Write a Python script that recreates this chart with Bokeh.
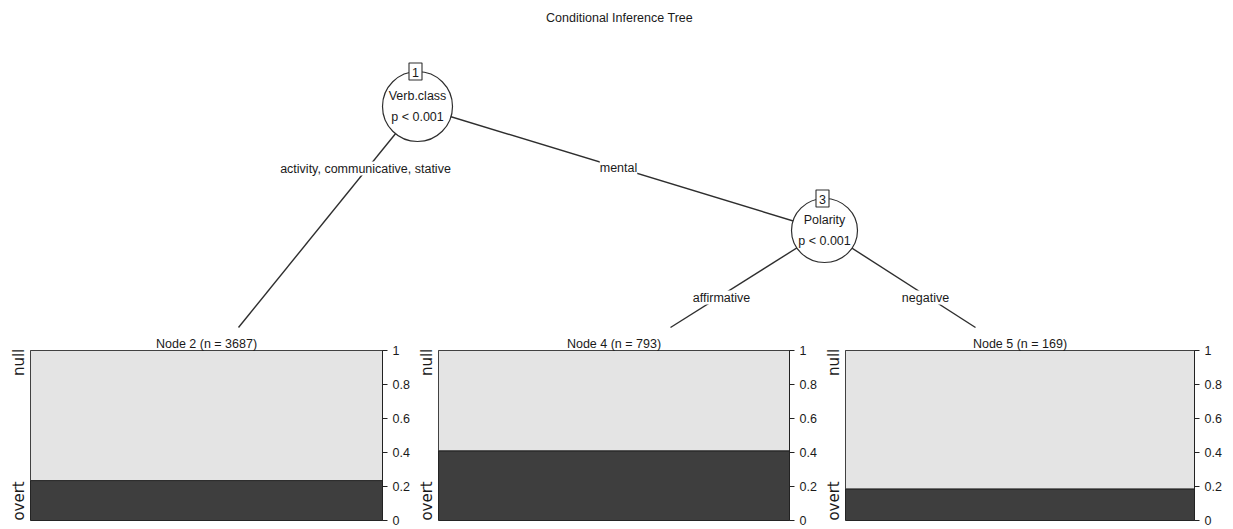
import math
from bokeh.plotting import figure
from bokeh.models import Range1d, Label, FixedTicker, CustomJSTickFormatter, LinearAxis
from bokeh.layouts import column, row
from bokeh.core.properties import value
from bokeh.embed import file_html
from bokeh.resources import INLINE

# ---------------- data ----------------
title_text = "Conditional Inference Tree"
class_labels = ["null", "overt"]
terminal_ids = [2, 4, 5]
terminal_n = [3687, 793, 169]
overt_share = [0.235, 0.41, 0.186]
inner_ids = [1, 3]
inner_vars = ["Verb.class", "Polarity"]
inner_p = ["p < 0.001", "p < 0.001"]
edge_labels = ["activity, communicative, stative", "mental", "affirmative", "negative"]
tick_values = [0, 0.2, 0.4, 0.6, 0.8, 1]
class_label_pos = [0.93, 0.115]

# ---------------- styling / layout ----------------
FONT = "Liberation Sans"
ROT_FONT = "DejaVu Sans"
FS = "12.5px"
TXT = "#1a1a1a"
LINE = "#2e2e2e"
DARK = "#3e3e3e"
LIGHT = "#e4e4e4"

# page-pixel layout of the tree (tree figure uses page coordinates)
inner_pos = [(417, 106), (824, 230)]
inner_size = [(70, 70), (66, 64)]
term_anchor = [(238, 327), (670, 327), (975, 327)]
edges = [(0, ("t", 0)), (0, ("i", 1)), (1, ("t", 1)), (1, ("t", 2))]
edge_label_pos = [(365, 168), (618, 167), (721, 297), (925, 297)]

TOTAL_W = 1233
TOTAL_H = 528
TREE_H = 333
tree = figure(width=TOTAL_W, height=TREE_H, x_range=Range1d(0, TOTAL_W), y_range=Range1d(TREE_H, 0),
              output_backend="svg", toolbar_location=None, min_border=0,
              x_axis_location=None, y_axis_location=None)
tree.grid.visible = False
tree.outline_line_color = None

x0, y0, x1, y1 = [], [], [], []
for parent, (kind, idx) in edges:
    px, py = inner_pos[parent]
    cx, cy = term_anchor[idx] if kind == "t" else inner_pos[idx]
    x0.append(px); y0.append(py); x1.append(cx); y1.append(cy)
tree.segment(x0=x0, y0=y0, x1=x1, y1=y1, line_color=LINE, line_width=1.4)

tree.ellipse(x=[p[0] for p in inner_pos], y=[p[1] for p in inner_pos],
             width=[s[0] for s in inner_size], height=[s[1] for s in inner_size],
             fill_color="white", line_color=LINE, line_width=1.2)

box_x = [p[0] - 2 for p in inner_pos]
box_y = [p[1] - s[1] / 2 for p, s in zip(inner_pos, inner_size)]
tree.rect(x=box_x, y=box_y, width=13, height=17, fill_color="white", line_color=LINE, line_width=1.1)
tree.text(x=box_x, y=[b + 1 for b in box_y], text=[str(i) for i in inner_ids],
          text_font=value(FONT), text_font_size=FS, text_color=TXT,
          text_align="center", text_baseline="middle")
tree.text(x=[p[0] for p in inner_pos], y=[p[1] - 11 for p in inner_pos], text=inner_vars,
          text_font=value(FONT), text_font_size=FS, text_color=TXT,
          text_align="center", text_baseline="middle")
tree.text(x=[p[0] for p in inner_pos], y=[p[1] + 10 for p in inner_pos], text=inner_p,
          text_font=value(FONT), text_font_size=FS, text_color=TXT,
          text_align="center", text_baseline="middle")

for lab, (lx, ly) in zip(edge_labels, edge_label_pos):
    tree.add_layout(Label(x=lx, y=ly, text=lab, text_align="center", text_baseline="middle",
                          text_font=FONT, text_font_size=FS, text_color=TXT,
                          background_fill_color="white"))

tree.add_layout(Label(x=619, y=17, text=title_text, text_align="center", text_baseline="middle",
                      text_font=FONT, text_font_size=FS, text_color=TXT))

# ---------------- terminal node bar panels ----------------
panel_widths = [415, 407, 411]
border_left = [30, 22, 22]
FRAME_W = [352, 352, 350]
PANEL_H = TOTAL_H - TREE_H
panels = []
for k in range(3):
    w = panel_widths[k]
    p = figure(width=w, height=PANEL_H, x_range=Range1d(0, 1), y_range=Range1d(0, 1),
               x_axis_location=None, y_axis_location="right",
               output_backend="svg", toolbar_location=None,
               min_border_left=border_left[k], min_border_right=w - border_left[k] - FRAME_W[k],
               min_border_top=17, min_border_bottom=8,
               title=f"Node {terminal_ids[k]} (n = {terminal_n[k]})")
    p.title.align = "center"
    p.title.text_font = FONT
    p.title.text_font_size = FS
    p.title.text_font_style = "normal"
    p.title.text_color = TXT
    p.title.standoff = 0
    p.grid.visible = False
    p.outline_line_color = "#2a2a2a"
    p.quad(left=[0], right=[1], bottom=[0], top=[overt_share[k]],
           fill_color=DARK, line_color="#1a1a1a", line_width=1)
    p.quad(left=[0], right=[1], bottom=[overt_share[k]], top=[1],
           fill_color=LIGHT, line_color="#2a2a2a", line_width=1)
    ax = p.yaxis[0]
    ax.ticker = FixedTicker(ticks=tick_values)
    ax.formatter = CustomJSTickFormatter(code="return String(Math.round(tick*10)/10)")
    ax.major_tick_out = 5
    ax.major_tick_in = 0
    ax.minor_tick_out = 0
    ax.minor_tick_in = 0
    ax.axis_line_color = "#222222"
    ax.major_tick_line_color = "#222222"
    ax.major_label_text_font = FONT
    ax.major_label_text_font_size = FS
    ax.major_label_text_color = TXT
    ax.major_label_standoff = 5

    lax = LinearAxis(ticker=FixedTicker(ticks=class_label_pos),
                     formatter=CustomJSTickFormatter(
                         code=f"return tick > 0.5 ? '{class_labels[0]}' : '{class_labels[1]}'"))
    lax.axis_line_color = None
    lax.major_tick_line_color = None
    lax.minor_tick_line_color = None
    lax.major_tick_out = 0
    lax.major_tick_in = 0
    lax.major_label_orientation = "parallel"
    lax.major_label_standoff = 2
    lax.major_label_text_font = ROT_FONT
    lax.major_label_text_font_size = "15px"
    lax.major_label_text_color = TXT
    p.add_layout(lax, "left")
    panels.append(p)

layout = column(tree, row(*panels))
open("out.html", "w").write(file_html(layout, INLINE))
